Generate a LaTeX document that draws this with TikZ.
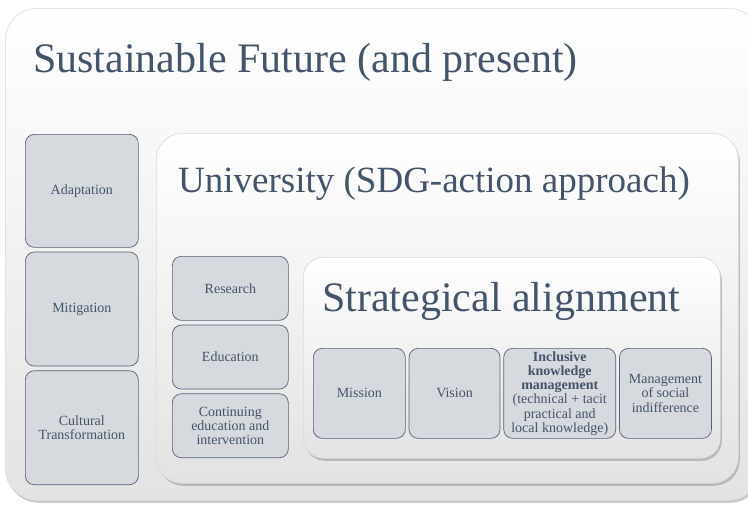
\documentclass[tikz,border=0pt]{standalone}
\usepackage{fontspec}
\setmainfont{Liberation Serif}
\usetikzlibrary{positioning, shadows}
\definecolor{slate}{HTML}{44546A}
\definecolor{cellgray}{HTML}{D6D9DD}
\definecolor{celledge}{HTML}{56627A}

\tikzset{
  panel/.style={draw=gray!30, line width=0.6pt, top color=white, bottom color=gray!22,
    anchor=north west, inner sep=0pt,
    drop shadow={shadow xshift=1.5pt, shadow yshift=-2.5pt, opacity=0.35, fill=black!60}},
  heading/.style={anchor=base west, text=slate, inner sep=0pt},
  cell/.style={draw=celledge, line width=0.7pt, fill=cellgray, rounded corners=9pt,
    anchor=north west, text=slate, align=center, inner sep=1pt,
    font=\fontsize{14}{14.2}\selectfont},
}

\begin{document}
\begin{tikzpicture}[x=1pt, y=-1pt]
  \useasboundingbox (0,0) rectangle (748,507);

  \node[panel, rounded corners=32pt, minimum width=755pt, minimum height=492pt] (future) at (5,8) {};
  \node[heading, font=\fontsize{42}{44}\selectfont] (futuretitle) at (33,72) {Sustainable Future (and present)};

  \node[cell, minimum width=113pt, minimum height=113pt] (adapt) at (25,134) {Adaptation};
  \node[cell, minimum width=113pt, minimum height=114pt, below=4pt of adapt] (mitig) {Mitigation};
  \node[cell, minimum width=113pt, minimum height=114pt, below=4pt of mitig] (culture) {Cultural\\Transformation};

  \node[panel, rounded corners=26pt, minimum width=582pt, minimum height=350pt] (univ) at (156,133) {};
  \node[heading, font=\fontsize{37}{39}\selectfont] (univtitle) at (178,192) {University (SDG-action approach)};

  \node[cell, minimum width=116pt, minimum height=64pt] (research) at (172,256) {Research};
  \node[cell, minimum width=116pt, minimum height=64pt, below=4pt of research] (educ) {Education};
  \node[cell, minimum width=116pt, minimum height=64pt, below=4pt of educ] (contin) {Continuing\\education and\\intervention};

  \node[panel, rounded corners=20pt, minimum width=417pt, minimum height=201pt] (strat) at (303,257) {};
  \node[heading, font=\fontsize{42}{44}\selectfont] (strattitle) at (322,311) {Strategical alignment};

  \node[cell, minimum width=92pt, minimum height=90pt] (mission) at (313,348) {Mission};
  \node[cell, minimum width=91pt, minimum height=90pt, right=3pt of mission] (vision) {Vision};
  \node[cell, minimum width=112pt, minimum height=90pt, right=3pt of vision] (knowledge)
    {\textbf{Inclusive}\\\textbf{knowledge}\\\textbf{management}\\(technical + tacit\\practical and\\local knowledge)};
  \node[cell, minimum width=92pt, minimum height=90pt, right=3pt of knowledge] (indiff) {Management\\of social\\indifference};
\end{tikzpicture}
\end{document}
